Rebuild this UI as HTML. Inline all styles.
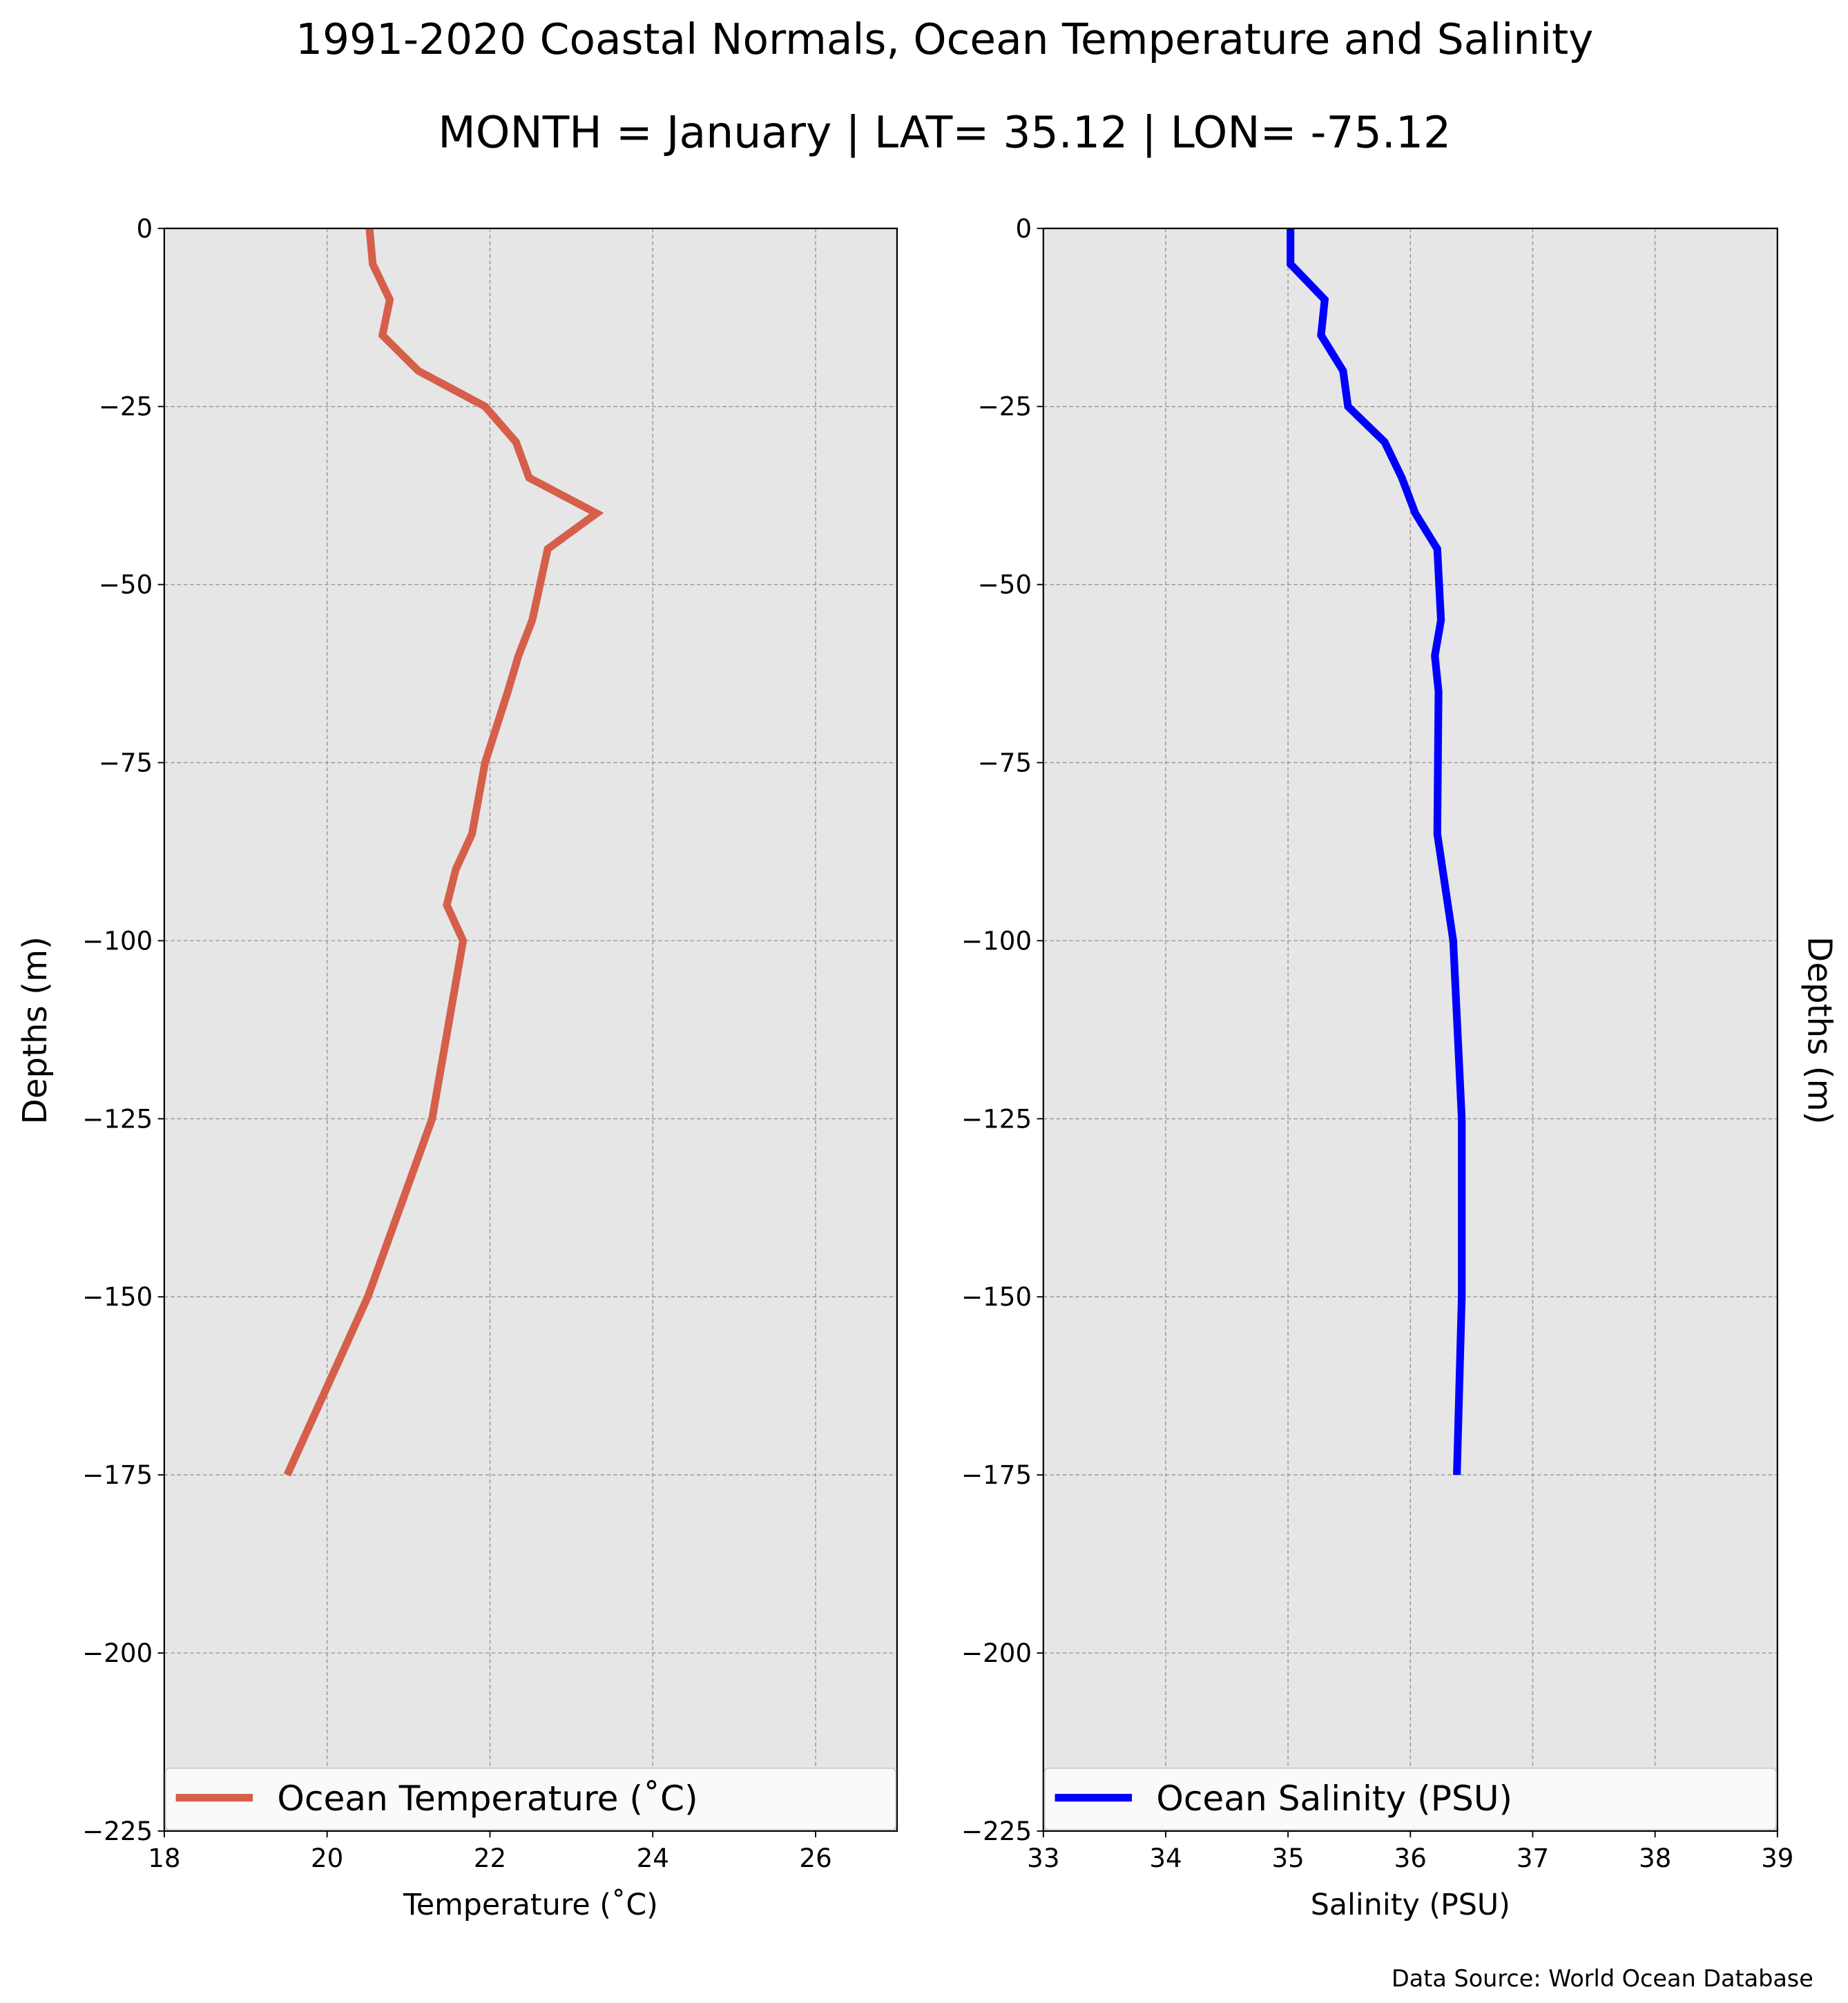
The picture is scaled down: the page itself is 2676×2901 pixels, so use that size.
<!DOCTYPE html>
<html><head><meta charset="utf-8"><style>
html,body{margin:0;padding:0;background:#fff;}
svg{display:block;font-family:"DejaVu Sans","Liberation Sans",sans-serif;}
</style></head><body>
<svg id="fig" width="2676" height="2901" viewBox="0 0 1440 1561" preserveAspectRatio="none" xmlns="http://www.w3.org/2000/svg">
<rect width="1440" height="1561" fill="#fff"/>
<text x="736" y="42" font-size="33" text-anchor="middle">1991-2020 Coastal Normals, Ocean Temperature and Salinity</text>
<text x="736" y="115" font-size="34" text-anchor="middle">MONTH = January | LAT= 35.12 | LON= -75.12</text>
<text transform="translate(36,803) rotate(-90)" font-size="26" text-anchor="middle">Depths (m)</text>
<text transform="translate(1409,803) rotate(90)" font-size="26" text-anchor="middle">Depths (m)</text>
<text x="1413" y="1548" font-size="18" text-anchor="end">Data Source: World Ocean Database</text>
<g id="plots"></g>
</svg>
<script>
const depths = [0,5,10,15,20,25,30,35,40,45,55,60,65,75,85,90,95,100,125,150,175];
const temperature = [20.52,20.56,20.77,20.68,21.12,21.94,22.32,22.48,23.31,22.71,22.52,22.35,22.22,21.94,21.78,21.58,21.47,21.67,21.29,20.5,19.51];
const salDepths = [0,5,10,15,20,25,30,35,40,45,55,60,65,85,100,125,150,175];
const salinity = [35.02,35.02,35.3,35.27,35.45,35.49,35.79,35.93,36.04,36.22,36.25,36.2,36.23,36.22,36.35,36.42,36.42,36.38];
const depthTicks = [0,-25,-50,-75,-100,-125,-150,-175,-200,-225];
const tempTicks = [18,20,22,24,26];
const salTicks = [33,34,35,36,37,38,39];

const NS="http://www.w3.org/2000/svg";
const plotsG=document.getElementById('plots');
function mk(tag,attrs,parent){const e=document.createElementNS(NS,tag);for(const k in attrs)e.setAttribute(k,attrs[k]);(parent||plotsG).appendChild(e);return e;}
const plotTop=178,plotBot=1427;
function yS(d){return plotTop+(0-d)/225*(plotBot-plotTop);}

function panel(x0,x1,xmin,xmax,xticks,xs,ys,color,legendText,xlabel,prefix){
  const xS=v=>x0+(v-xmin)/(xmax-xmin)*(x1-x0);
  const bg=mk('rect',{x:x0,y:plotTop,width:x1-x0,height:plotBot-plotTop,fill:'#e6e6e6'});
  
  
  xticks.forEach(t=>{
    const l=mk('line',{x1:xS(t),x2:xS(t),y1:plotTop,y2:plotBot,stroke:'#999',"stroke-width":0.8,"stroke-dasharray":"3,2"});
    
    
    const tk=mk('line',{x1:xS(t),x2:xS(t),y1:plotBot,y2:plotBot+5,stroke:'#000',"stroke-width":1});
    
    
    const tx=mk('text',{x:xS(t),y:plotBot+28,"font-size":20,"text-anchor":"middle"});
    tx.textContent=t;
    
    
  });
  depthTicks.forEach(t=>{
    const l=mk('line',{x1:x0,x2:x1,y1:yS(t),y2:yS(t),stroke:'#999',"stroke-width":0.8,"stroke-dasharray":"3,2"});
    
    
    const tk=mk('line',{x1:x0-5,x2:x0,y1:yS(t),y2:yS(t),stroke:'#000',"stroke-width":1});
    
    
    const tx=mk('text',{x:x0-9,y:yS(t)+7,"font-size":20,"text-anchor":"end"});
    tx.textContent=t<0?'\u2212'+(-t):t;
    
    
  });
  const pts=xs.map((v,i)=>xS(v)+','+yS(-ys[i])).join(' ');
  const line=mk('polyline',{points:pts,fill:'none',stroke:color,"stroke-width":6,"stroke-linejoin":"miter"});
  
  
  const fr=mk('rect',{x:x0,y:plotTop,width:x1-x0,height:plotBot-plotTop,fill:'none',stroke:'#000',"stroke-width":1.2});
  
  
  const lg=mk('g',{});
  
  
  mk('rect',{x:x0+1,y:1378,width:x1-x0-2,height:48,fill:'#fafafa',stroke:'#ccc',"stroke-width":1,rx:3},lg);
  mk('line',{x1:x0+9,x2:x0+69,y1:1401,y2:1401,stroke:color,"stroke-width":6},lg);
  const lt=mk('text',{x:x0+88,y:1411,"font-size":27},lg);
  lt.textContent=legendText;
  const xl=mk('text',{x:(x0+x1)/2,y:1492,"font-size":23,"text-anchor":"middle"});
  xl.textContent=xlabel;
  
  
}
panel(128,699,18,27,tempTicks,temperature,depths,'#d65f4b','Ocean Temperature (\u02DAC)','Temperature (\u02DAC)','temperature');
panel(813,1385,33,39,salTicks,salinity,salDepths,'#0000ff','Ocean Salinity (PSU)','Salinity (PSU)','salinity');
</script>
</body></html>
